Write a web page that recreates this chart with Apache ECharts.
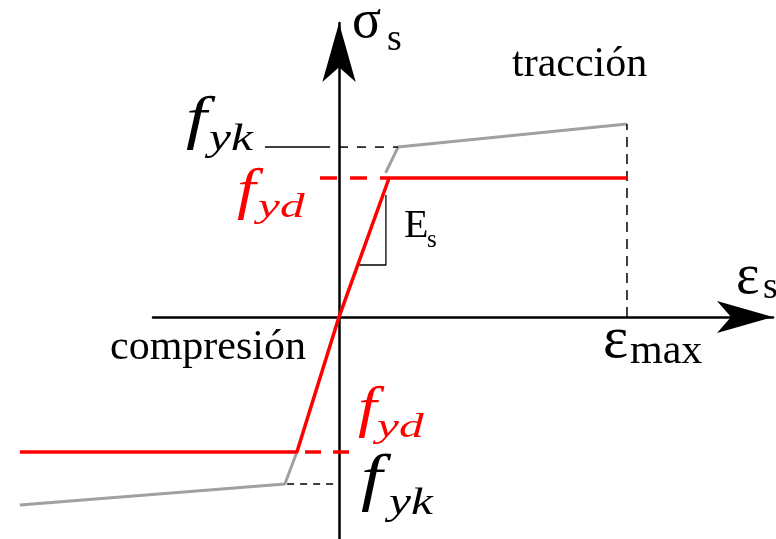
<!DOCTYPE html>
<html>
<head>
<meta charset="utf-8">
<script src="https://cdn.jsdelivr.net/npm/echarts@6/dist/echarts.min.js"></script>
<style>
html, body { margin: 0; padding: 0; background: #fff; }
#main { width: 776px; height: 539px; }
</style>
</head>
<body>
<div id="main"></div>
<script>
// deformación en tanto por mil, tensión en MPa
var epsMax = 10;
var fyk = 500, fyd = 409;
var fykC = -491, fydC = -397;

var designT = [[0, 0], [1.74, fyd], [epsMax, fyd]];
var charT = [[1.62, 424], [2.05, fyk], [epsMax, 568]];
var designC = [[0, 0], [-1.46, fydC], [-11.08, fydC]];
var charC = [[-1.46, fydC], [-1.88, fykC], [-11.08, -553]];
var slopeTri = [[0.65, 153], [1.63, 153], [1.63, 359]];

var fykGuideT = [[0, fyk], [2.05, fyk]];
var fykLeader = [[-2.57, fyk], [-0.31, fyk]];
var fydGuideT = [[-0.66, fyd], [1.74, fyd]];
var epsGuide = [[epsMax, 0], [epsMax, 568]];
var fykGuideC = [[-1.8, fykC], [0, fykC]];
var fydGuideC = [[0.35, fydC], [-1.46, fydC]];

var myChart = echarts.init(document.getElementById('main'));

function line(data, color, width, type) {
    return {
        type: 'line',
        xAxisIndex: 1,
        yAxisIndex: 1,
        data: data,
        symbol: 'none',
        clip: false,
        silent: true,
        lineStyle: { color: color, width: width, type: type || 'solid' }
    };
}

// texto con la línea base en "base"
function txt(str, left, base, size, color, italic, sx) {
    return {
        type: 'text',
        x: left,
        y: base - size * 0.34,
        scaleX: sx || 1,
        style: {
            text: str,
            fill: color || '#000',
            font: (italic ? 'italic ' : '') + size + 'px "Liberation Serif"',
            textAlign: 'left',
            verticalAlign: 'middle'
        }
    };
}

var hiddenX = { type: 'value', gridIndex: 1, min: -11.77, max: 15.07, show: false };
var hiddenY = { type: 'value', gridIndex: 1, min: -653, max: 865, show: false };

option = {
    animation: false,
    backgroundColor: '#fff',
    grid: [
        { left: 153, right: 3, top: 23, bottom: 0 },
        { left: 0, right: 3, top: 23, bottom: 0 }
    ],
    xAxis: [{
        type: 'value',
        gridIndex: 0,
        min: -6.46,
        max: 15.07,
        axisLine: {
            lineStyle: { color: '#000', width: 2.5 },
            symbol: ['none', 'arrow'],
            symbolSize: [24, 56]
        },
        axisTick: { show: false },
        axisLabel: { show: false },
        splitLine: { show: false }
    }, hiddenX],
    yAxis: [{
        type: 'value',
        gridIndex: 0,
        min: -653,
        max: 865,
        axisLine: {
            lineStyle: { color: '#000', width: 2.5 },
            symbol: ['none', 'arrow'],
            symbolSize: [25, 59]
        },
        axisTick: { show: false },
        axisLabel: { show: false },
        splitLine: { show: false }
    }, hiddenY],
    series: [
        line(charT, '#a0a0a0', 3),
        line(charC, '#a0a0a0', 3),
        line(fykGuideT, '#000', 1.5, [9, 9]),
        line(fykLeader, '#000', 1.5),
        line(epsGuide, '#000', 1.5, [10, 7]),
        line(fykGuideC, '#000', 1.5, [7, 6]),
        line(slopeTri, '#000', 1.3),
        line(fydGuideT, '#ff0000', 3.5, [17, 13]),
        line(fydGuideC, '#ff0000', 3.5, [16, 12]),
        line(designT, '#ff0000', 3.5),
        line(designC, '#ff0000', 3.5)
    ],
    graphic: [
        txt('σ', 352, 41, 54),
        txt('s', 387, 53, 38),
        txt('tracción', 512, 79, 42),
        txt('f', 186, 142, 60, '#000', true, 1.25),
        txt('yk', 209, 153, 38, '#000', true, 1.3),
        txt('f', 237, 212, 56, '#ff0000', true, 1.2),
        txt('yd', 258, 220, 34, '#ff0000', true, 1.45),
        txt('E', 404, 240, 40),
        txt('s', 427, 249, 25),
        txt('ε', 736, 297, 56),
        txt('s', 763, 301, 38),
        txt('ε', 603, 362, 60),
        txt('max', 630, 366, 42),
        txt('compresión', 110, 362, 42),
        txt('f', 358, 430, 56, '#ff0000', true, 1.2),
        txt('yd', 377, 440, 34, '#ff0000', true, 1.45),
        txt('f', 361, 503, 64, '#000', true, 1.2),
        txt('yk', 389, 517, 38, '#000', true, 1.3)
    ]
};

myChart.setOption(option);
</script>
</body>
</html>
